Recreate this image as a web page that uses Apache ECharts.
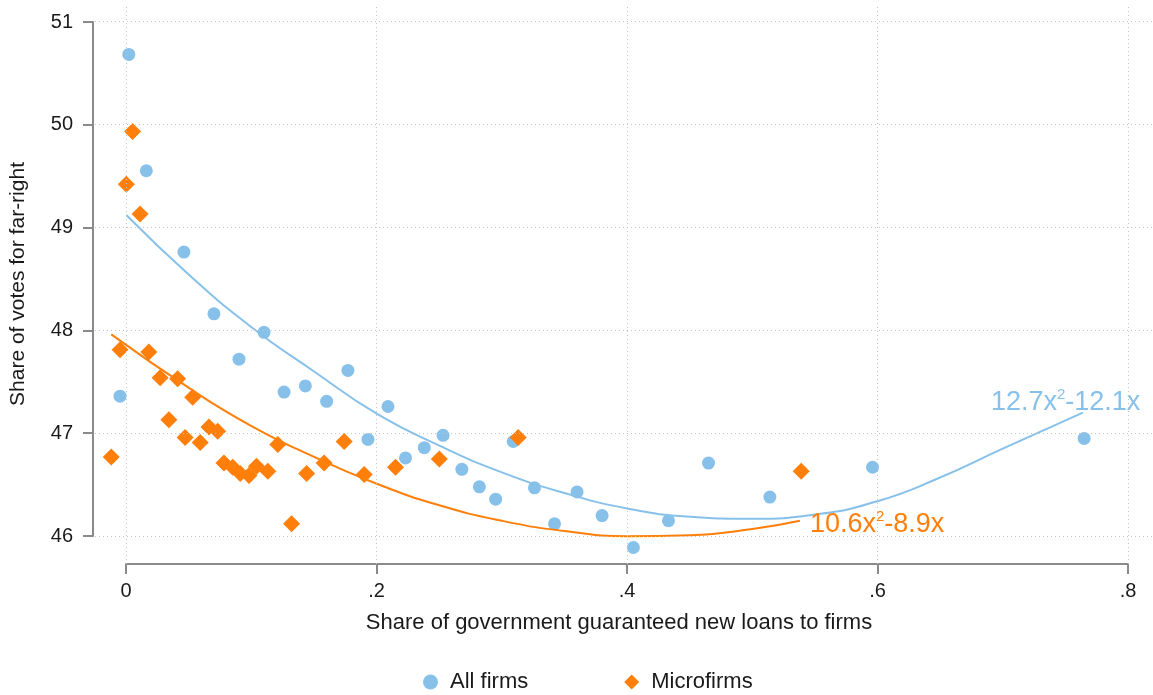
<!DOCTYPE html>
<html>
<head>
<meta charset="utf-8">
<script src="https://cdn.jsdelivr.net/npm/echarts@6/dist/echarts.min.js"></script>
<style>
  html, body { margin: 0; padding: 0; background: #fff; }
  #chart { width: 1153px; height: 695px; }
</style>
</head>
<body>
<div id="chart"></div>
<script>
// values
const allFirmsX = [0.002, 0.016, 0.046, -0.005, 0.070, 0.110, 0.090, 0.126, 0.143, 0.160, 0.177, 0.193, 0.209,
  0.223, 0.238, 0.253, 0.268, 0.282, 0.295, 0.309, 0.326, 0.342, 0.360, 0.380, 0.405, 0.433, 0.465, 0.514, 0.596, 0.765]
const allFirmsY = [50.68, 49.55, 48.76, 47.36, 48.16, 47.98, 47.72, 47.40, 47.46, 47.31, 47.61, 46.94, 47.26,
  46.76, 46.86, 46.98, 46.65, 46.48, 46.36, 46.92, 46.47, 46.12, 46.43, 46.20, 45.89, 46.15, 46.71, 46.38, 46.67, 46.95]

const microX = [0.005, 0.000, 0.011, -0.012, -0.005, 0.018, 0.027, 0.041, 0.053, 0.034, 0.047, 0.059, 0.066, 0.073,
  0.078, 0.085, 0.091, 0.098, 0.104, 0.113, 0.121, 0.132, 0.144, 0.158, 0.174, 0.190, 0.215, 0.250, 0.313, 0.539]
const microY = [49.93, 49.42, 49.13, 46.77, 47.81, 47.79, 47.54, 47.53, 47.35, 47.13, 46.96, 46.91, 47.06, 47.02,
  46.71, 46.67, 46.61, 46.59, 46.68, 46.63, 46.89, 46.12, 46.61, 46.71, 46.92, 46.60, 46.67, 46.75, 46.96, 46.63]

// fitted curves, points
const allFitX = [0, 0.05, 0.1, 0.15, 0.2, 0.25, 0.3, 0.35, 0.4, 0.45, 0.5, 0.55, 0.6, 0.65, 0.7, 0.764]
const allFitY = [49.12, 48.54, 48.03, 47.60, 47.19, 46.88, 46.62, 46.42, 46.27, 46.19, 46.17, 46.21, 46.34, 46.57, 46.85, 47.20]
const microFitX = [-0.012, 0.05, 0.1, 0.15, 0.2, 0.25, 0.3, 0.35, 0.4, 0.45, 0.5, 0.538]
const microFitY = [47.96, 47.44, 47.07, 46.77, 46.51, 46.30, 46.15, 46.05, 46.00, 46.01, 46.07, 46.15]

const xTicks = [0, 0.2, 0.4, 0.6, 0.8]
const yTicks = [46, 47, 48, 49, 50, 51]

const blue = '#87C1EA'
const orange = '#FF7F0A'
const font = 'Liberation Sans, Arial, sans-serif'
const ink = '#1a1a1a'

const zip = (xs, ys) => xs.map((x, i) => [x, ys[i]])

const chart = echarts.init(document.getElementById('chart'), null, { renderer: 'canvas' })

const axisGray = { color: '#8a8a8a', width: 2 }

const option = {
  animation: false,
  backgroundColor: '#fff',
  textStyle: { fontFamily: font },
  grid: [
    { left: 95, right: 0, top: 5, bottom: 131 }, // data area
    { left: 126, right: 25, top: 22, bottom: 159 } // axis lines span only the ticks
  ],
  xAxis: [
    { gridIndex: 0, type: 'value', min: -0.025, max: 0.82, show: false, splitLine: { show: false } },
    {
      gridIndex: 1, type: 'value', min: 0, max: 0.8, interval: 0.2, offset: 28,
      axisLine: { show: true, onZero: false, lineStyle: axisGray },
      axisTick: { show: true, length: 10, lineStyle: axisGray },
      axisLabel: {
        fontSize: 20, color: ink, margin: 17, fontFamily: font,
        formatter: v => String(Number(v.toFixed(1))).replace(/^0\./, '.')
      },
      splitLine: { show: false },
      name: 'Share of government guaranteed new loans to firms',
      nameLocation: 'middle', nameGap: 48,
      nameTextStyle: { fontSize: 22, color: ink, fontFamily: font, padding: [0, 16, 0, 0] }
    }
  ],
  yAxis: [
    { gridIndex: 0, type: 'value', min: 45.73, max: 51.16, show: false, splitLine: { show: false } },
    {
      gridIndex: 1, type: 'value', min: 46, max: 51, interval: 1, offset: 33,
      axisLine: { show: true, onZero: false, lineStyle: axisGray },
      axisTick: { show: true, length: 10, lineStyle: axisGray },
      axisLabel: { fontSize: 20, color: ink, margin: 20, fontFamily: font },
      splitLine: { show: false },
      name: 'Share of votes for far-right',
      nameLocation: 'middle', nameGap: 64, nameRotate: 90,
      nameTextStyle: { fontSize: 21, color: ink, fontFamily: font, padding: [0, 10, 0, 0] }
    }
  ],
  legend: {
    data: [
      { name: 'All firms', icon: 'circle' },
      { name: 'Microfirms', icon: 'diamond' }
    ],
    left: 418, top: 666,
    itemWidth: 15, itemHeight: 15, itemGap: 96,
    textStyle: { fontSize: 22, color: ink, fontFamily: font, padding: [0, 0, 0, 7] }
  },
  series: [
    { // dotted grid
      type: 'line', data: [], z: 1, silent: true,
      markLine: {
        silent: true, symbol: 'none', label: { show: false },
        lineStyle: { color: '#c4c4c4', width: 1, type: [1, 3] },
        data: [...xTicks.map(v => ({ xAxis: v })), ...yTicks.map(v => ({ yAxis: v }))]
      }
    },
    {
      name: 'All firms', type: 'scatter', z: 2,
      symbol: 'circle', symbolSize: 13,
      itemStyle: { color: blue, opacity: 1 },
      data: zip(allFirmsX, allFirmsY)
    },
    {
      name: 'Microfirms', type: 'scatter', z: 2,
      symbol: 'diamond', symbolSize: 17,
      itemStyle: { color: orange, opacity: 1 },
      data: zip(microX, microY)
    },
    {
      name: 'allFit', type: 'line', z: 3, smooth: true, showSymbol: false, silent: true,
      lineStyle: { color: blue, width: 2 },
      data: zip(allFitX, allFitY),
      endLabel: {
        show: true, offset: [-100, -10], color: blue, fontSize: 27, fontFamily: font,
        formatter: '12.7x{sup|2}-12.1x',
        rich: { sup: { fontSize: 15, color: blue, fontFamily: font, padding: [0, 0, 16, 0] } }
      }
    },
    {
      name: 'microFit', type: 'line', z: 3, smooth: true, showSymbol: false, silent: true,
      lineStyle: { color: orange, width: 2 },
      data: zip(microFitX, microFitY),
      endLabel: {
        show: true, offset: [2, 4], color: orange, fontSize: 27, fontFamily: font,
        formatter: '10.6x{sup|2}-8.9x',
        rich: { sup: { fontSize: 15, color: orange, fontFamily: font, padding: [0, 0, 16, 0] } }
      }
    }
  ]
}

chart.setOption(option)
</script>
</body>
</html>
